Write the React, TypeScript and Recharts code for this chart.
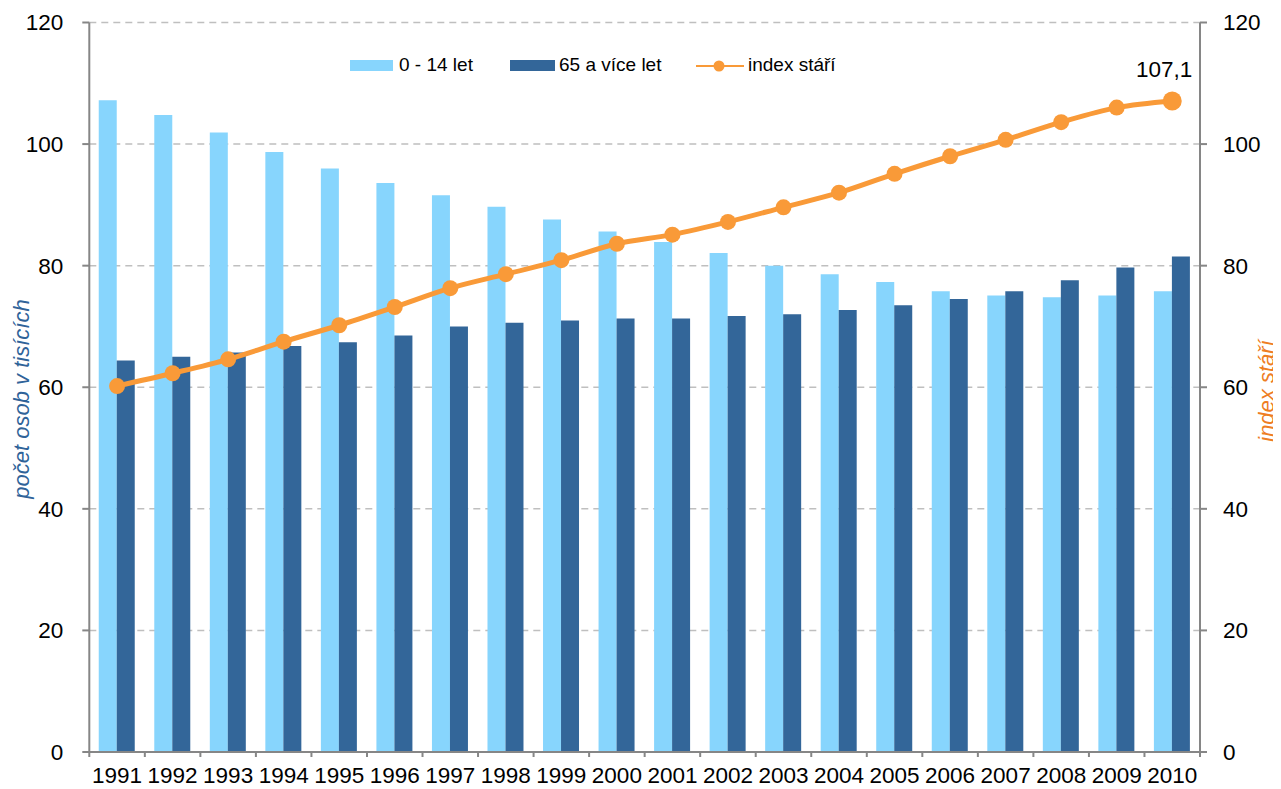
import React from 'react';
import { ComposedChart, Bar, Line, XAxis, YAxis, CartesianGrid, Label, LabelList } from 'recharts';

// Roky a hodnoty (tisíce osob, index stáří)
const years = ['1991', '1992', '1993', '1994', '1995', '1996', '1997', '1998', '1999', '2000',
  '2001', '2002', '2003', '2004', '2005', '2006', '2007', '2008', '2009', '2010'];
const kids = [107.2, 104.8, 101.9, 98.7, 96.0, 93.6, 91.6, 89.7, 87.6, 85.6,
  83.9, 82.1, 80.0, 78.6, 77.3, 75.8, 75.1, 74.8, 75.1, 75.8];
const seniors = [64.4, 65.0, 65.7, 66.8, 67.4, 68.5, 70.0, 70.6, 71.0, 71.3,
  71.3, 71.7, 72.0, 72.7, 73.5, 74.5, 75.8, 77.6, 79.7, 81.5];
const agingIndex = [60.2, 62.3, 64.6, 67.5, 70.2, 73.2, 76.3, 78.6, 80.9, 83.6,
  85.1, 87.2, 89.6, 92.0, 95.1, 98.0, 100.7, 103.6, 106.0, 107.1];
const axisTicks = [0, 20, 40, 60, 80, 100, 120];

const data = years.map((year, i) => ({
  year,
  kids: kids[i],
  seniors: seniors[i],
  index: agingIndex[i],
}));

const W = 1273;
const H = 781;
const LEFT_W = 81.3;
const RIGHT_W = 81;
const BAND = (W - LEFT_W - RIGHT_W) / years.length;
const LAST = years.length - 1;

const LIGHT = '#87D5FD';
const DARK = '#336699';
const ORANGE = '#F99A38';
const AXIS = '#868686';
const FONT = '"Liberation Sans", Arial, sans-serif';
const TICK_FS = 22.5;

const XTick = (props: any) => {
  const { x, y, payload, index } = props;
  const half = BAND / 2;
  return (
    <g>
      <line x1={x - half} y1={y} x2={x - half} y2={y + 5} stroke={AXIS} strokeWidth={2} />
      {index === LAST && (
        <line x1={x + half} y1={y} x2={x + half} y2={y + 5} stroke={AXIS} strokeWidth={2} />
      )}
      <text x={x} y={y + 15} dy="0.71em" textAnchor="middle" fontSize={TICK_FS} fill="#000" fontFamily={FONT}>
        {payload.value}
      </text>
    </g>
  );
};

const IndexDot = (props: any) => {
  const { cx, cy, index } = props;
  return <circle key={index} cx={cx} cy={cy} r={index === LAST ? 9.5 : 8} fill={ORANGE} />;
};

const LastLabel = (props: any) => {
  const { x, y, index, value } = props;
  if (index !== LAST) return null;
  return (
    <text x={x - 8} y={y - 32} dy="0.35em" textAnchor="middle"
      fontSize={TICK_FS} fill="#000" fontFamily={FONT}>
      {String(value).replace('.', ',')}
    </text>
  );
};

export default function App() {
  return (
    <div style={{ position: 'relative', width: W, height: H, fontFamily: FONT }}>
      <ComposedChart width={W} height={H} data={data}
        margin={{ top: 14.5, right: 0, left: 0, bottom: 0 }}
        barCategoryGap="17%" barGap={0}>
        <CartesianGrid yAxisId="left" vertical={false} stroke="#BFBFBF" strokeWidth={1.5} strokeDasharray="7 5" />
        <XAxis dataKey="year" height={37} interval={0} tickSize={0} tickMargin={0}
          tickLine={false} axisLine={{ stroke: AXIS, strokeWidth: 2 }} tick={<XTick />} />
        <YAxis yAxisId="left" width={LEFT_W} domain={[0, 120]} ticks={axisTicks} interval={0}
          tickSize={7} tickMargin={19}
          axisLine={{ stroke: AXIS, strokeWidth: 2 }} tickLine={{ stroke: AXIS, strokeWidth: 2 }}
          tick={{ fontSize: TICK_FS, fill: '#000', fontFamily: FONT }}>
          <Label content={() => (
            <text x={13} y={391} dy="0.35em" transform="rotate(-90 13 391)" textAnchor="middle"
              fontSize={22} fontStyle="italic" fill="#2F6399" fontFamily={FONT}>
              počet osob v tisících
            </text>
          )} />
        </YAxis>
        <YAxis yAxisId="right" orientation="right" width={RIGHT_W} domain={[0, 120]} ticks={axisTicks}
          interval={0} tickSize={7} tickMargin={16}
          axisLine={{ stroke: AXIS, strokeWidth: 2 }} tickLine={{ stroke: AXIS, strokeWidth: 2 }}
          tick={{ fontSize: TICK_FS, fill: '#000', fontFamily: FONT, textAnchor: 'start' }}>
          <Label content={() => (
            <text x={1258} y={383} dy="0.35em" transform="rotate(-90 1258 383)" textAnchor="middle"
              fontSize={22} fontStyle="italic" fill="#EE7D22" fontFamily={FONT}>
              index stáří
            </text>
          )} />
        </YAxis>
        <Bar yAxisId="left" dataKey="kids" name="0 - 14 let" fill={LIGHT} isAnimationActive={false} />
        <Bar yAxisId="left" dataKey="seniors" name="65 a více let" fill={DARK} isAnimationActive={false} />
        <Line yAxisId="right" dataKey="index" name="index stáří" type="monotone" stroke={ORANGE}
          strokeWidth={5} dot={IndexDot} activeDot={false} isAnimationActive={false}>
          <LabelList dataKey="index" content={LastLabel} />
        </Line>
      </ComposedChart>

      {/* legenda */}
      <div style={{ position: 'absolute', left: 342, top: 52, width: 43, height: 11, background: LIGHT }} />
      <div style={{ position: 'absolute', left: 391, top: 46, fontSize: 19, lineHeight: '22px', color: '#000' }}>0 - 14 let</div>
      <div style={{ position: 'absolute', left: 502, top: 52, width: 45, height: 11, background: DARK }} />
      <div style={{ position: 'absolute', left: 551, top: 46, fontSize: 19, lineHeight: '22px', color: '#000' }}>65 a více let</div>
      <svg style={{ position: 'absolute', left: 686, top: 50 }} width={52} height={16}>
        <line x1={2} y1={8} x2={50} y2={8} stroke={ORANGE} strokeWidth={2} />
        <circle cx={25} cy={8} r={5.5} fill={ORANGE} />
      </svg>
      <div style={{ position: 'absolute', left: 740, top: 46, fontSize: 19, lineHeight: '22px', color: '#000' }}>index stáří</div>
    </div>
  );
}
